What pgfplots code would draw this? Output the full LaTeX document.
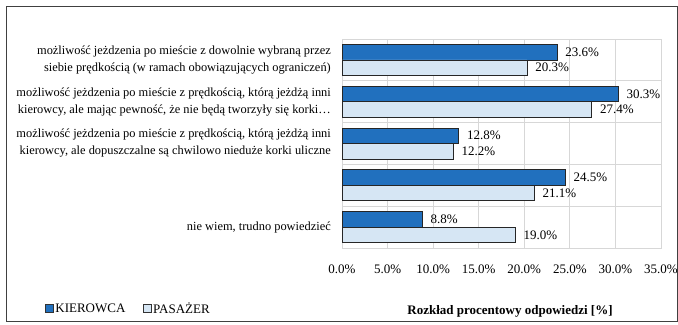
\documentclass[border=0pt]{standalone}
\usepackage{pgfplots}
\pgfplotsset{compat=1.18}
\usepackage{fontspec}
\setmainfont{Liberation Serif}
\definecolor{darkb}{RGB}{33,112,190}
\definecolor{lightb}{RGB}{214,230,244}
\definecolor{gridc}{RGB}{215,215,215}
\begin{document}
\begin{tikzpicture}
\useasboundingbox (0,0) rectangle (678bp,325bp);
\fill[white] (0,0) rectangle (678bp,325bp);
\draw[black!75, line width=1pt] (6bp,4bp) rectangle (677bp,318bp);
\begin{axis}[
  at={(342bp,77bp)}, anchor=south west,
  scale only axis, width=319bp, height=209bp,
  xbar, bar width=15.5bp,
  xmin=0, xmax=35, xtick={0,5,...,35},
  ymin=-0.5, ymax=4.5, y dir=reverse,
  ytick={0,1,2,3,4},
  yticklabels={{możliwość jeżdzenia po mieście z dowolnie wybraną przez\\siebie prędkością (w ramach obowiązujących ograniczeń)},
               {możliwość jeżdzenia po mieście z prędkością, którą jeżdżą inni\\kierowcy, ale mając pewność, że nie będą tworzyły się korki…},
               {możliwość jeżdzenia po mieście z prędkością, którą jeżdżą inni\\kierowcy, ale dopuszczalne są chwilowo nieduże korki uliczne},
               {},
               {nie wiem, trudno powiedzieć}},
  yticklabel style={align=right, font=\fontsize{12.4bp}{17bp}\selectfont, inner sep=0pt, xshift=-11bp},
  minor ytick={-0.5,0.5,...,4.5},
  ymajorgrids=false, yminorgrids=true, xmajorgrids=true,
  grid style={gridc, line width=0.8pt}, minor grid style={gridc, line width=0.8pt},
  axis line style={gridc, line width=0.8pt},
  major tick length=0pt, minor tick length=0pt,
  /pgf/number format/assume math mode=true,
  xticklabel={\pgfmathprintnumber[fixed,fixed zerofill,precision=1]{\tick}\%},
  xticklabel style={font=\fontsize{13bp}{15bp}\selectfont, yshift=-13bp},
  nodes near coords={\pgfmathprintnumber[fixed,fixed zerofill,precision=1]{\pgfplotspointmeta}\%},
  nodes near coords style={font=\fontsize{13bp}{15bp}\selectfont, black, anchor=west, inner sep=0pt, xshift=8bp},
  point meta=explicit,
  legend style={at={(-0.931,-0.29)}, anchor=west, draw=none, fill=none,
    font=\fontsize{13bp}{15bp}\selectfont, legend columns=2,
    /tikz/every even column/.append style={column sep=16bp},
    inner sep=0pt, nodes={inner sep=1.5bp}},
  legend image code/.code={\draw[#1, draw=black!80, line width=0.7pt] (0bp,-4bp) rectangle (8bp,4bp);},
  clip=false,
]
\addplot[fill=darkb, draw=black!85, line width=0.7pt, bar shift=7.75bp] coordinates {(23.6,0) [23.6] (30.3,1) [30.3] (12.8,2) [12.8] (24.5,3) [24.5] (8.8,4) [8.8]};
\addplot[fill=lightb, draw=black!85, line width=0.7pt, bar shift=-7.75bp] coordinates {(20.3,0) [20.3] (27.4,1) [27.4] (12.2,2) [12.2] (21.1,3) [21.1] (19.0,4) [19.0]};
\legend{KIEROWCA, PASAŻER}
\end{axis}
\node[font=\bfseries\fontsize{13bp}{15bp}\selectfont] at (510bp,14bp) {Rozkład procentowy odpowiedzi [\%]};
\end{tikzpicture}
\end{document}
